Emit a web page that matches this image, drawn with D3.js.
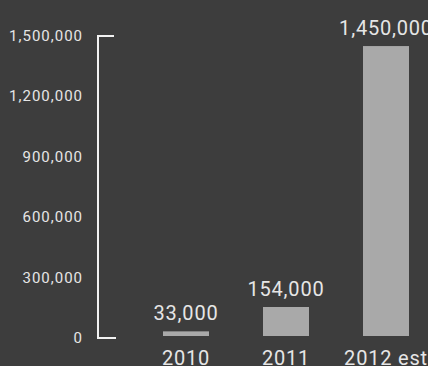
<!DOCTYPE html>
<html>
<head>
<meta charset="utf-8">
<script src="https://cdn.jsdelivr.net/npm/d3@7"></script>
<style>
  html, body { margin: 0; padding: 0; background: #3d3d3d; }
  svg { display: block; }
  text { font-family: Roboto, "DejaVu Sans", sans-serif; fill: #e6e6e6; }
</style>
</head>
<body>
<script>
  const categories = ['2010', '2011', '2012 est'];
  const values = [33000, 154000, 1450000];
  const valueLabels = ['33,000', '154,000', '1,450,000'];
  const tickValues = [0, 300000, 600000, 900000, 1200000, 1500000];

  const width = 428;
  const height = 366;

  const svg = d3.select('body')
          .append('svg')
          .attr('width', width)
          .attr('height', height);

  svg.append('rect')
          .attr('width', width)
          .attr('height', height)
          .attr('fill', '#3d3d3d');

  const y = d3.scaleLinear()
          .domain([0, 1500000])
          .range([338, 36]);

  const x = d3.scaleBand()
          .domain(categories)
          .range([136, 436])
          .paddingInner(0.54)
          .paddingOuter(0.27);

  // bracket-style axis
  svg.append('path')
          .attr('d', `M114,${y(1500000)}H98V${y(0)}H116`)
          .attr('fill', 'none')
          .attr('stroke', '#f2f2f2')
          .attr('stroke-width', 2);

  svg.append('g')
          .selectAll('text')
          .data(tickValues)
          .enter()
          .append('text')
          .attr('x', 83)
          .attr('y', d => y(d) + 5)
          .attr('text-anchor', 'end')
          .attr('font-size', '15px')
          .attr('letter-spacing', '1px')
          .attr('fill', '#d8d8d8')
          .text(d => d3.format(',')(d));

  svg.append('g')
          .selectAll('rect')
          .data(values)
          .enter()
          .append('rect')
          .attr('x', (d, i) => x(categories[i]))
          .attr('width', x.bandwidth())
          .attr('y', d => y(d))
          .attr('height', d => y(0) - 2 - y(d))
          .attr('fill', '#a9a9a9');

  svg.append('g')
          .selectAll('text')
          .data(values)
          .enter()
          .append('text')
          .attr('x', (d, i) => x(categories[i]) + x.bandwidth() / 2)
          .attr('y', d => y(d) - 11)
          .attr('text-anchor', 'middle')
          .attr('font-size', '20px')
          .attr('letter-spacing', '0.8px')
          .text((d, i) => valueLabels[i]);

  svg.append('g')
          .selectAll('text')
          .data(categories)
          .enter()
          .append('text')
          .attr('x', d => x(d) + x.bandwidth() / 2)
          .attr('y', 365)
          .attr('text-anchor', 'middle')
          .attr('font-size', '20px')
          .attr('letter-spacing', '0.8px')
          .text(d => d);
</script>
</body>
</html>
